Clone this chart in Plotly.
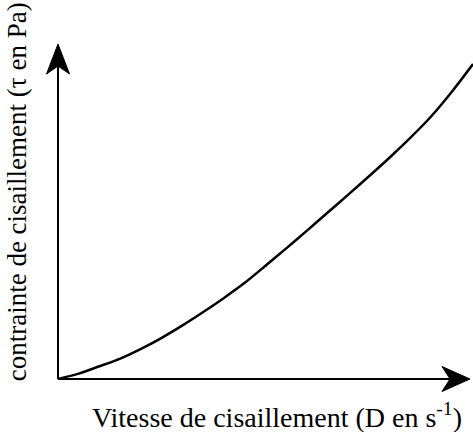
import plotly.graph_objects as go

# Shear rate D (arbitrary units) and shear stress tau
shear_rate = [0, 5, 10, 15, 20, 25, 30, 35, 40, 45, 50,
              55, 60, 65, 70, 75, 80, 85, 90, 95, 100]
shear_stress = [0, 1.6, 3.8, 6.1, 9.0, 12.3, 16.0, 20.0, 24.2, 28.7, 33.8,
                39.0, 44.3, 49.7, 55.1, 60.6, 66.2, 72.1, 78.5, 85.9, 94.0]

x_title = "Vitesse de cisaillement (D en s<sup>-1</sup>)"
y_title = "contrainte de cisaillement (τ en Pa)"

FONT = "Times New Roman, Liberation Serif, DejaVu Serif, serif"
INK = "black"

fig = go.Figure()
fig.add_trace(go.Scatter(
    x=shear_rate, y=shear_stress, mode="lines",
    line=dict(color=INK, width=2.5, shape="spline", smoothing=0.8),
    hoverinfo="skip", showlegend=False,
))

x_end = 412 / 415   # end of the horizontal axis arrow (paper units)

shapes = [
    # axis lines, in paper units so nothing gets clipped at the plot border
    dict(type="line", xref="paper", yref="paper", x0=0, y0=0, x1=x_end - 0.01, y1=0,
         line=dict(color=INK, width=2)),
    dict(type="line", xref="paper", yref="paper", x0=0, y0=0, x1=0, y1=0.97,
         line=dict(color=INK, width=2)),
    # notched arrowheads, drawn in pixels around the axis ends
    dict(type="path", xref="paper", yref="paper", xsizemode="pixel", ysizemode="pixel",
         xanchor=x_end, yanchor=0,
         path="M0,0 L-28,12.5 L-20,0 L-28,-12.5 Z",
         fillcolor=INK, line=dict(color=INK, width=1)),
    dict(type="path", xref="paper", yref="paper", xsizemode="pixel", ysizemode="pixel",
         xanchor=0, yanchor=1,
         path="M0,0 L11.5,-30 L0,-22 L-11.5,-30 Z",
         fillcolor=INK, line=dict(color=INK, width=1)),
]

annotations = [
    dict(text=x_title, xref="paper", yref="paper", x=0.527, y=-0.11,
         xanchor="center", yanchor="middle", showarrow=False,
         font=dict(family=FONT, size=28, color=INK)),
    dict(text=y_title, xref="paper", yref="paper", x=-0.099, y=0.56,
         xanchor="center", yanchor="middle", showarrow=False, textangle=-90,
         font=dict(family=FONT, size=27, color=INK)),
]

fig.update_layout(
    width=473, height=432,
    margin=dict(l=58, r=0, t=44, b=53),
    paper_bgcolor="white", plot_bgcolor="white",
    font=dict(family=FONT, color=INK),
    xaxis=dict(range=[0, 100], visible=False, fixedrange=True),
    yaxis=dict(range=[0, 100], visible=False, fixedrange=True),
    shapes=shapes, annotations=annotations,
)

fig.write_html("out.html")
